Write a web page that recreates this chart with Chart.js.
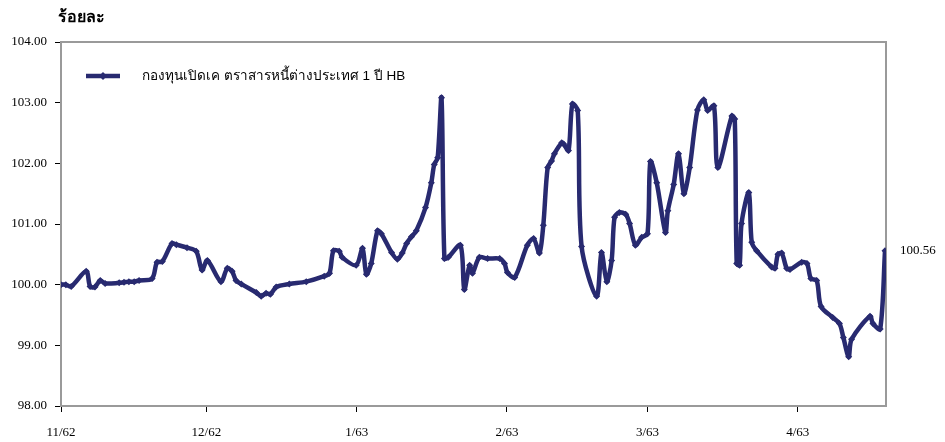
<!DOCTYPE html>
<html lang="th">

<head>
    <meta charset="UTF-8">
    <title>กองทุนเปิดเค ตราสารหนี้ต่างประเทศ 1 ปี HB</title>
    <script src="https://cdn.jsdelivr.net/npm/chart.js"></script>
    <style>
        html, body { margin: 0; padding: 0; background: #fff; }
        #wrap { width: 945px; height: 442px; }
    </style>
</head>

<body>
    <div id="wrap"><canvas id="chartNav" width="945" height="442"></canvas></div>

<script>
    // position on the time axis, in days counted from 1/11/62
    var days = [
        0.0, 1.0, 2.1, 5.2, 6.0, 7.0, 8.1, 9.1, 12.0, 13.0, 14.0, 15.1, 16.1, 18.8, 19.8, 20.9,
        22.9, 23.8, 26.0, 27.9, 29.1, 30.2, 33.0, 34.3, 35.3, 36.1, 37.2, 40.3, 41.3, 42.3, 43.2,
        44.4, 47.1, 50.6, 54.3, 55.4, 56.2, 57.4, 58.0, 60.9, 62.2, 63.0, 64.0, 65.3, 66.1, 68.2,
        69.4, 70.4, 71.3, 72.3, 73.3, 75.2, 76.4, 77.0, 77.7, 78.5, 79.1, 79.9, 82.4, 83.2, 84.3,
        84.9, 86.3, 88.0, 90.5, 91.5, 92.1, 93.6, 96.2, 97.5, 98.7, 99.5, 100.4, 101.2, 101.8,
        103.3, 103.7, 104.7, 105.5, 106.6, 107.4, 110.5, 111.5, 112.6, 113.6, 114.2, 115.2, 116.5,
        117.3, 118.5, 119.8, 121.0, 121.6, 122.9, 124.7, 125.2, 126.4, 127.4, 128.5, 129.7, 131.3,
        132.6, 133.4, 134.7, 135.5, 138.4, 139.0, 139.4, 140.0, 140.4, 141.9, 142.5, 143.5, 146.6,
        147.3, 147.9, 148.7, 149.7, 150.4, 152.8, 153.9, 154.7, 155.9, 156.8, 159.2, 160.6, 161.4,
        162.5, 163.1, 166.9, 167.5, 169.0, 170.0
    ];

    // NAV (ร้อยละ)
    var navValues = [
        100.00, 100.00, 99.97, 100.22, 99.97, 99.96, 100.07, 100.02, 100.03, 100.04, 100.05, 100.05, 100.07, 100.10, 100.37, 100.38,
        100.68, 100.66, 100.61, 100.55, 100.24, 100.40, 100.05, 100.27, 100.22, 100.07, 100.01, 99.87, 99.81, 99.86, 99.84,
        99.96, 100.01, 100.05, 100.14, 100.19, 100.56, 100.55, 100.45, 100.32, 100.60, 100.17, 100.35, 100.89, 100.84, 100.53,
        100.42, 100.52, 100.68, 100.79, 100.89, 101.27, 101.68, 101.98, 102.09, 103.08, 100.43, 100.45, 100.65, 99.92, 100.32,
        100.19, 100.45, 100.43, 100.43, 100.35, 100.20, 100.12, 100.65, 100.76, 100.52, 100.98, 101.93, 102.04, 102.16,
        102.34, 102.32, 102.21, 102.98, 102.87, 100.63, 99.81, 100.53, 100.05, 100.40, 101.11, 101.19, 101.16,
        101.01, 100.65, 100.78, 100.84, 102.03, 101.68, 100.86, 101.22, 101.65, 102.16, 101.50, 101.93, 102.88,
        103.05, 102.87, 102.95, 101.93, 102.78, 102.73, 100.35, 100.32, 101.01, 101.52, 100.70, 100.56, 100.29,
        100.27, 100.50, 100.52, 100.27, 100.25, 100.37, 100.35, 100.10, 100.07, 99.64, 99.46, 99.36, 99.13,
        98.81, 99.10, 99.48, 99.36, 99.27, 100.56
    ];

    // first day of each month, same day count as above
    var monthTicks = [0, 30, 61, 92, 121, 152];
    var monthLabels = ['11/62', '12/62', '1/63', '2/63', '3/63', '4/63'];

    var seriesName = 'กองทุนเปิดเค ตราสารหนี้ต่างประเทศ 1 ปี HB';
    var unitTitle = 'ร้อยละ';
    var endLabel = '100.56';

    var navy = 'rgb(40, 42, 112)';
    var serif = '"Liberation Serif", "Times New Roman", serif';
    var sans = '"Liberation Sans", Arial, sans-serif';

    // grey frame on top/right of the plot, axes draw over left/bottom
    var framePlugin = {
        id: 'frame',
        beforeDatasetsDraw: function (chart) {
            var a = chart.chartArea;
            var c = chart.ctx;
            c.save();
            c.strokeStyle = '#9a9a9a';
            c.lineWidth = 2;
            c.strokeRect(a.left, a.top, a.right - a.left, a.bottom - a.top);
            c.restore();
        }
    };

    // title, legend inside the plot and the last value label
    var textPlugin = {
        id: 'texts',
        afterDraw: function (chart) {
            var c = chart.ctx;
            c.save();
            c.fillStyle = '#000';
            c.textBaseline = 'middle';

            c.font = 'bold 16px ' + sans;
            c.textAlign = 'left';
            c.fillText(unitTitle, 58, 18);

            // legend sample
            c.strokeStyle = navy;
            c.lineWidth = 4.5;
            c.beginPath();
            c.moveTo(86, 76);
            c.lineTo(120, 76);
            c.stroke();
            c.fillStyle = navy;
            c.beginPath();
            c.moveTo(103, 72);
            c.lineTo(107, 76);
            c.lineTo(103, 80);
            c.lineTo(99, 76);
            c.closePath();
            c.fill();

            c.fillStyle = '#000';
            c.font = '13.5px ' + sans;
            c.fillText(seriesName, 142, 76);

            var x = chart.scales.x.getPixelForValue(days[days.length - 1]);
            var y = chart.scales.y.getPixelForValue(navValues[navValues.length - 1]);
            c.font = '13px ' + serif;
            c.fillText(endLabel, x + 15, y);
            c.restore();
        }
    };

    var ctx = document.getElementById('chartNav').getContext('2d');
    var chartNav = new Chart(ctx, {
        type: 'line',
        data: {
            datasets: [{
                label: seriesName,
                data: days.map(function (d, i) { return { x: d, y: navValues[i] }; }),
                borderColor: navy,
                backgroundColor: navy,
                borderWidth: 4.5,
                tension: 0.3,
                pointStyle: 'rectRot',
                pointRadius: 3.5,
                pointBorderWidth: 0,
                fill: false
            }]
        },
        options: {
            responsive: false,
            animation: false,
            layout: {
                padding: { top: 42, right: 59, left: 0, bottom: 0 }
            },
            plugins: {
                legend: { display: false },
                tooltip: { enabled: false }
            },
            scales: {
                x: {
                    type: 'linear',
                    min: 0,
                    max: 170.2,
                    afterBuildTicks: function (scale) {
                        scale.ticks = monthTicks.map(function (v) { return { value: v }; });
                    },
                    afterFit: function (scale) { scale.height = 36; },
                    ticks: {
                        autoSkip: false,
                        maxRotation: 0,
                        padding: 13,
                        color: '#000',
                        font: { family: serif, size: 13 },
                        callback: function (v, i) { return monthLabels[i]; }
                    },
                    grid: { drawOnChartArea: false, tickLength: 6, color: '#000' },
                    border: { color: '#555', width: 2 }
                },
                y: {
                    min: 98,
                    max: 104,
                    afterFit: function (scale) { scale.width = 61; },
                    ticks: {
                        stepSize: 1,
                        padding: 8,
                        color: '#000',
                        font: { family: serif, size: 13 },
                        callback: function (v) { return v.toFixed(2); }
                    },
                    grid: { drawOnChartArea: false, tickLength: 6, color: '#000' },
                    border: { color: '#000', width: 2 }
                }
            }
        },
        plugins: [framePlugin, textPlugin]
    });
</script>
</body>

</html>
